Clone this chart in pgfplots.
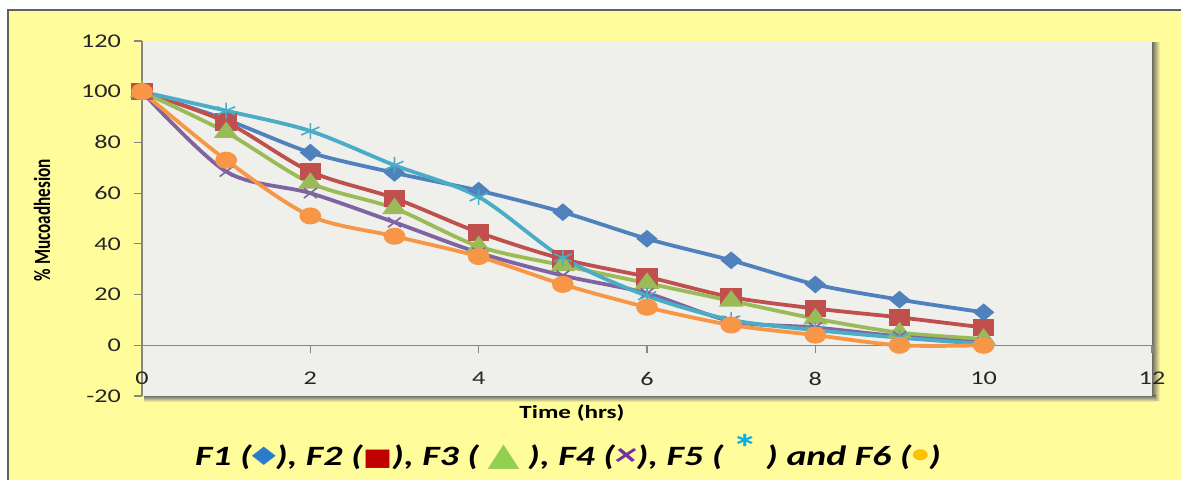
\documentclass[border=0pt]{standalone}
\usepackage{fontspec}
\setmainfont{Carlito}[FakeStretch=1.35]
\newfontfamily\plainfont{Carlito}
\newfontfamily\symfont{DejaVu Sans}[FakeStretch=1.3]
\usepackage{graphicx}
\usepackage{pgfplots}
\usepackage{pgfplotstable}
\pgfplotsset{compat=1.18}

\definecolor{ybg}{HTML}{FFFC9C}
\definecolor{plotbg}{HTML}{EFEFEC}
\definecolor{axisgray}{HTML}{868686}
\definecolor{cF1}{HTML}{4F81BD}
\definecolor{cF2}{HTML}{C0504D}
\definecolor{cF3}{HTML}{9BBB59}
\definecolor{cF4}{HTML}{8064A2}
\definecolor{cF5}{HTML}{4BACC6}
\definecolor{cF6}{HTML}{F79646}
% colours of the symbols in the caption line
\definecolor{sF1}{HTML}{2A7BC8}
\definecolor{sF2}{HTML}{C00000}
\definecolor{sF3}{HTML}{92D050}
\definecolor{sF4}{HTML}{7030A0}
\definecolor{sF5}{HTML}{00B0F0}
\definecolor{sF6}{HTML}{FFC000}

% % mucoadhesion remaining versus time for formulations F1--F6
\pgfplotstableread{
t   F1    F2    F3    F4    F5    F6
0   100   100   100   100   100   100
1   89    88    84    68.5  92.5  73
2   76    68.5  64    60    84.5  51
3   68    58    54    48.5  71    43
4   61    44.5  39    36.5  58.5  35
5   52.5  34    31.5  27.5  34.5  24
6   42    27    24.5  20.5  19.5  15
7   33.5  19    17.5  9.5   10    8
8   24    14.5  10.5  7     6     4
9   18    11    5     3.5   3     0
10  13    7     2.5   1     0.5   0
}\mucodata

\begin{document}
\begin{tikzpicture}
\useasboundingbox (-71pt,-42pt) rectangle (519.5pt,198pt);
\fill[white] (-71pt,-42pt) rectangle (519.5pt,198pt);
% chart area
\fill[ybg] (-67pt,-43pt) rectangle (520pt,193pt);
\draw[gray!75!black, line width=0.8pt] (-67pt,-43pt) -- (-67pt,193pt) -- (520pt,193pt);
% plot area shadow
\shade[left color=black!65, right color=ybg] (504.5pt,-2.5pt) rectangle (509pt,176.5pt);
\shade[top color=black!55, bottom color=ybg] (1pt,0pt) rectangle (507pt,-3pt);

\begin{axis}[
  at={(0pt,0pt)}, anchor=south west,
  scale only axis, width=505pt, height=177.5pt,
  xmin=0, xmax=12, ymin=-20, ymax=120,
  xtick={0,2,...,12}, ytick={-20,0,...,120},
  axis x line=middle, axis y line=left,
  axis line style={-, draw=axisgray, line width=0.6pt},
  tick align=outside, major tick length=4pt,
  tick style={draw=axisgray, line width=0.6pt},
  hide obscured x ticks=false, hide obscured y ticks=false,
  /pgf/number format/assume math mode=true,
  ticklabel style={font=\fontsize{9.7}{11}\selectfont, text=black!85},
  xticklabel style={yshift=-6pt},
  yticklabel style={xshift=-3pt},
  axis background/.style={fill=plotbg},
  every axis plot/.append style={line width=1.9pt, smooth},
]
\addplot[cF1, mark=diamond*, mark size=3.2pt, mark options={xscale=1.6, fill=cF1}] table[x=t, y=F1] {\mucodata};
\addplot[cF2, mark=square*, mark size=3.4pt, mark options={xscale=1.3, fill=cF2}] table[x=t, y=F2] {\mucodata};
\addplot[cF3, mark=triangle*, mark size=3.8pt, mark options={xscale=1.3, fill=cF3}] table[x=t, y=F3] {\mucodata};
\addplot[cF4, mark=x, mark size=3.5pt, mark options={xscale=1.3, line width=0.8pt}] table[x=t, y=F4] {\mucodata};
\addplot[cF5, mark=asterisk, mark size=4pt, mark options={xscale=1.3, line width=0.8pt}] table[x=t, y=F5] {\mucodata};
\addplot[cF6, mark=*, mark size=3.3pt, mark options={xscale=1.35, fill=cF6}] table[x=t, y=F6] {\mucodata};
\end{axis}

% axis titles
\node at (215pt,-8.5pt) {\fontsize{9.3}{11}\selectfont\bfseries Time (hrs)};
\node at (-50pt,88pt) {\rotatebox{90}{\scalebox{1}[1.35]{\fontsize{8.6}{10}\selectfont\plainfont\bfseries \% Mucoadhesion}}};
% caption line naming the markers
\node at (213pt,-28pt) {\fontsize{14}{15}\selectfont\bfseries\itshape
  F1 (\textcolor{sF1}{\symfont\fontsize{12}{13}\selectfont\raisebox{0.1em}{◆}}), F2 (\textcolor{sF2}{\symfont\fontsize{12}{13}\selectfont ■}), F3 ( \textcolor{sF3}{\symfont\fontsize{16}{13}\selectfont ▲} ), F4 (\textcolor{sF4}{\fontsize{16}{13}\selectfont ×}), F5 ( \textcolor{sF5}{\raisebox{0.12em}{\upshape\fontsize{19}{16}\selectfont *}} ) and F6 (\textcolor{sF6}{\upshape\fontsize{13}{13}\selectfont\raisebox{0.1em}{•}})};
\end{tikzpicture}
\end{document}
